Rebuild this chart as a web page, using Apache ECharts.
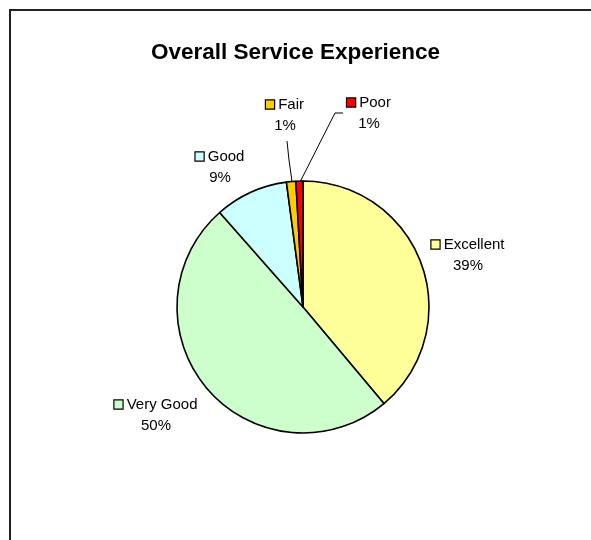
<!DOCTYPE html>
<html><head><meta charset="utf-8">
<script src="https://cdn.jsdelivr.net/npm/echarts@6/dist/echarts.min.js"></script>
<style>html,body{margin:0;padding:0;background:#fff}#c{width:591px;height:540px}</style>
</head><body><div id="c"></div>
<script>
const categories = ['Excellent', 'Very Good', 'Good', 'Fair', 'Poor'];
const values = [38.9, 49.6, 9.4, 1.2, 0.9];
const colors = ['#FFFF99', '#CCFFCC', '#CCFFFF', '#FFCC00', '#FF0000'];
const title = 'Overall Service Experience';

// label placement (centre of each two-line label) and leader lines
const labelCenters = [[468, 255], [156, 415], [220, 167], [285, 115], [369, 113]];
const leaderLines = [null, null, null,
  [[287, 141], [289, 160], [292.5, 185]],
  [[343, 113], [335, 113], [298.5, 185]]];

const rich = { t: { fontFamily: 'Liberation Sans, Arial, sans-serif', fontSize: 15, color: '#000', lineHeight: 21 } };
colors.forEach((c, i) => {
  rich['b' + i] = { width: 8, height: 8, backgroundColor: c, borderColor: '#000', borderWidth: 1.2 };
});

const chart = echarts.init(document.getElementById('c'), null, { renderer: 'canvas' });
chart.setOption({
  animation: false,
  backgroundColor: '#fff',
  title: {
    text: title, left: 'center', top: 36,
    textStyle: { fontFamily: 'Liberation Sans, Arial, sans-serif', fontWeight: 'bold', fontSize: 22.5, color: '#000' }
  },
  graphic: [{
    type: 'rect', shape: { x: 10, y: 10, width: 620, height: 600 },
    style: { fill: 'none', stroke: '#222', lineWidth: 2 }, silent: true
  }],
  series: [{
    type: 'pie',
    center: [303, 307],
    radius: [0, 126],
    startAngle: 90,
    clockwise: true,
    avoidLabelOverlap: false,
    itemStyle: { borderColor: '#000', borderWidth: 1.6 },
    label: {
      show: true, position: 'outside',
      formatter: p => '{b' + p.dataIndex + '|}{t| ' + p.name + '}\n{t|' + Math.round(p.percent) + '%}',
      rich: rich, align: 'center'
    },
    labelLine: { show: true, lineStyle: { color: '#000', width: 1 } },
    labelLayout: function (params) {
      const i = params.dataIndex;
      const r = { x: labelCenters[i][0], y: labelCenters[i][1], align: 'center', verticalAlign: 'middle' };
      if (leaderLines[i]) r.labelLinePoints = leaderLines[i];
      return r;
    },
    emphasis: { disabled: true },
    data: categories.map((n, i) => ({
      name: n, value: values[i],
      itemStyle: { color: colors[i] },
      labelLine: { show: !!leaderLines[i] }
    }))
  }]
});
</script></body></html>
